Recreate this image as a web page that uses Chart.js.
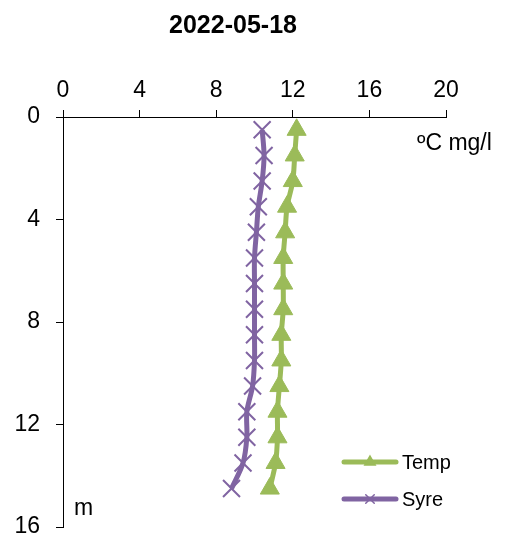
<!DOCTYPE html>
<html>
<head>
<meta charset="utf-8">
<script src="https://cdn.jsdelivr.net/npm/chart.js@4.4.1/dist/chart.umd.min.js"></script>
<style>
  body { margin: 0; background: #fff; }
  #wrap { width: 508px; height: 545px; }
</style>
</head>
<body>
<div id="wrap"><canvas id="profile" width="508" height="545"></canvas></div>
<script>
const depths = [0.5, 1.5, 2.5, 3.5, 4.5, 5.5, 6.5, 7.5, 8.5, 9.5, 10.5, 11.5, 12.5, 13.5, 14.5];
const temp = [12.2, 12.1, 12.0, 11.7, 11.6, 11.5, 11.5, 11.5, 11.4, 11.4, 11.3, 11.2, 11.2, 11.1, 10.8];
const syre = [10.4, 10.5, 10.4, 10.2, 10.1, 10.0, 10.0, 10.0, 10.0, 10.0, 9.9, 9.6, 9.6, 9.4, 8.8];
const xTicks = [0, 4, 8, 12, 16, 20];
const yTicks = [0, 4, 8, 12, 16];
const title = '2022-05-18';

const GREEN = '#9BBB59';
const PURPLE = '#8064A2';
const FONT = '"Liberation Sans", Arial, sans-serif';

function pts(vals) {
  return vals.map((v, i) => ({ x: v, y: depths[i] }));
}

// title, unit labels and the legend drawn straight onto the canvas
const extras = {
  id: 'extras',
  afterDraw(chart) {
    const ctx = chart.ctx;
    ctx.save();
    ctx.fillStyle = '#000';
    ctx.font = 'bold 25px ' + FONT;
    ctx.textAlign = 'center';
    ctx.textBaseline = 'alphabetic';
    ctx.fillText(title, 233, 33);

    ctx.font = '23px ' + FONT;
    ctx.textAlign = 'left';
    ctx.fillText('\u00BAC mg/l', 417, 150);
    ctx.fillText('m', 74, 515);

    const items = [
      { label: 'Temp', color: GREEN, style: 'triangle', y: 462 },
      { label: 'Syre', color: PURPLE, style: 'crossRot', y: 499 }
    ];
    items.forEach(it => {
      ctx.strokeStyle = it.color;
      ctx.lineWidth = 5;
      ctx.lineCap = 'round';
      ctx.beginPath();
      ctx.moveTo(344, it.y);
      ctx.lineTo(396, it.y);
      ctx.stroke();
      ctx.fillStyle = it.color;
      ctx.lineWidth = 1.5;
      Chart.helpers.drawPoint(ctx, { pointStyle: it.style, radius: 6, borderWidth: 1.5 }, 370, it.y);
      ctx.fillStyle = '#000';
      ctx.font = '20px ' + FONT;
      ctx.textBaseline = 'middle';
      ctx.fillText(it.label, 402, it.y + 1);
    });
    ctx.restore();
  }
};

new Chart(document.getElementById('profile'), {
  type: 'scatter',
  data: {
    datasets: [
      {
        label: 'Temp',
        data: pts(temp),
        showLine: true,
        borderColor: GREEN,
        backgroundColor: GREEN,
        borderWidth: 5,
        tension: 0.3,
        pointStyle: 'triangle',
        pointRadius: 11,
        pointBorderWidth: 1,
        pointBackgroundColor: GREEN,
        pointBorderColor: GREEN
      },
      {
        label: 'Syre',
        data: pts(syre),
        showLine: true,
        borderColor: PURPLE,
        backgroundColor: PURPLE,
        borderWidth: 5,
        tension: 0.3,
        pointStyle: 'crossRot',
        pointRadius: 12,
        pointBorderWidth: 2,
        pointBorderColor: PURPLE
      }
    ]
  },
  options: {
    responsive: false,
    animation: false,
    layout: { padding: { top: 0, left: 0, right: 62, bottom: 18 } },
    plugins: {
      legend: { display: false },
      title: { display: false },
      tooltip: { enabled: false }
    },
    scales: {
      x: {
        position: 'top',
        min: 0,
        max: 20,
        afterFit(scale) { scale.height = 117; },
        afterBuildTicks(scale) { scale.ticks = xTicks.map(v => ({ value: v })); },
        ticks: { color: '#000', font: { family: FONT, size: 23 }, padding: 6 },
        grid: { drawOnChartArea: false, tickLength: 7, color: '#000' },
        border: { color: '#000', width: 1 }
      },
      y: {
        reverse: true,
        min: 0,
        max: 16,
        afterFit(scale) {
          scale.width = 63;
          scale.paddingTop = 0;
          scale.paddingBottom = 0;
        },
        afterBuildTicks(scale) { scale.ticks = yTicks.map(v => ({ value: v })); },
        ticks: { color: '#000', font: { family: FONT, size: 23 }, padding: 16 },
        grid: { drawOnChartArea: false, tickLength: 7, color: '#000' },
        border: { color: '#000', width: 1 }
      }
    }
  },
  plugins: [extras]
});
</script>
</body>
</html>
